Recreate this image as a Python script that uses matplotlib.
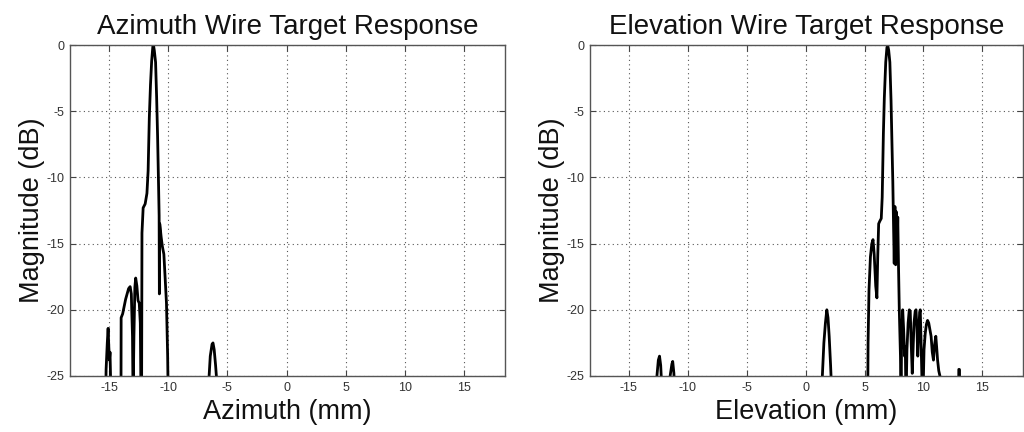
import matplotlib
matplotlib.use("Agg")
import matplotlib.pyplot as plt

# -----------------------------
# DATA (dB below -25 are clipped)
# -----------------------------
az_mm = [-15.35, -15.25, -15.15, -15.08, -15.02, -14.97, -14.92, -14.85, -14.7,
         -14.0, -13.98, -13.85, -13.6, -13.35, -13.22, -13.12, -13.02, -12.97,
         -12.9, -12.82, -12.75, -12.65, -12.55, -12.45, -12.36, -12.3, -12.26,
         -12.22, -12.12, -11.95, -11.8, -11.7, -11.6, -11.5, -11.4, -11.3,
         -11.25, -11.18, -11.07, -10.98, -10.9, -10.82, -10.77, -10.75, -10.72,
         -10.68, -10.6, -10.5, -10.37, -10.25, -10.15, -10.05, -10.0, -9.9,
         -6.7, -6.58, -6.45, -6.3, -6.22, -6.12, -6.0, -5.85, -5.75]
az_db = [-30, -24.5, -22.5, -21.4, -22.8, -23.8, -23.2, -26, -30,
         -30, -20.6, -20.3, -19.2, -18.4, -18.25, -18.8, -22, -27,
         -22, -18.3, -17.6, -18.2, -19.3, -19.5, -21, -27, -30,
         -14.2, -12.3, -12.0, -11.2, -9.5, -5.5, -3.0, -1.2, -0.1,
         0.0, -0.4, -1.3, -4.0, -6.9, -10.5, -12.9, -18.8, -13.5,
         -13.8, -14.5, -15.2, -15.8, -17.8, -19.5, -23.5, -27, -30,
         -30, -25.5, -23.5, -22.6, -22.5, -23.0, -24.2, -26, -30]

el_mm = [-12.75, -12.62, -12.5, -12.4, -12.3, -12.2, -12.1,
         -11.6, -11.5, -11.35, -11.28, -11.18, -11.08, -11.0,
         1.3, 1.42, 1.55, 1.68, 1.8, 1.9, 2.0, 2.12, 2.25, 2.35,
         5.25, 5.3, 5.38, 5.5, 5.62, 5.72, 5.82, 5.95, 6.05, 6.12, 6.2,
         6.3, 6.42, 6.5, 6.6, 6.68, 6.8, 6.9, 6.96, 7.05, 7.15, 7.25,
         7.33, 7.4, 7.46, 7.52, 7.58, 7.64, 7.7, 7.76, 7.82, 7.88, 7.95,
         8.05, 8.1, 8.15, 8.24, 8.32, 8.4, 8.46, 8.52, 8.6, 8.7, 8.8,
         8.88, 8.96, 9.05, 9.12, 9.2, 9.3, 9.37, 9.45, 9.52, 9.6, 9.68,
         9.73, 9.8, 9.88, 9.95, 10.05, 10.15, 10.25, 10.35, 10.45, 10.55,
         10.65, 10.75, 10.85, 10.95, 11.05, 11.12, 11.2, 11.3, 11.4, 11.5,
         12.95, 13.0, 13.05, 13.1]
el_db = [-30, -25, -23.8, -23.5, -24.2, -26, -30,
         -30, -25, -24.1, -23.9, -24.8, -27, -30,
         -30, -25, -22.5, -21, -20.0, -20.6, -22, -24.2, -27, -30,
         -30, -22.5, -18.5, -16.0, -15.0, -14.7, -15.8, -18.2, -19.1, -16, -13.5,
         -13.3, -13.1, -11.5, -6.7, -4.0, -1.3, -0.2, 0.0, -0.4, -1.3, -4.2,
         -7.5, -10.3, -13.5, -16.5, -12.2, -16.6, -12.6, -16.0, -13.0, -16.5, -20.0,
         -23.5, -27, -22, -20.0, -21.5, -23.5, -22.8, -27, -23, -21, -20.0,
         -20.1, -22.5, -24.8, -23, -21, -20.1, -20.0, -21.5, -23.5, -21.5, -20.2,
         -20.0, -22.5, -25.5, -27, -23, -21.8, -21.1, -20.8, -21.0, -21.5,
         -22, -23.2, -23.8, -22.6, -22.0, -22.8, -23.8, -24.6, -25, -30,
         -30, -24.5, -24.5, -30]

x_ticks = [-15, -10, -5, 0, 5, 10, 15]
y_ticks = [-25, -20, -15, -10, -5, 0]

plt.rcParams['font.family'] = ['Liberation Sans', 'DejaVu Sans']

fig = plt.figure(figsize=(10.24, 4.32), dpi=100)
ax1 = fig.add_axes([70 / 1024, 1 - 376 / 432, 435 / 1024, 331 / 432])
ax2 = fig.add_axes([590 / 1024, 1 - 376 / 432, 433 / 1024, 331 / 432])

panels = [
    (ax1, az_mm, az_db, "Azimuth Wire Target Response", "Azimuth (mm)"),
    (ax2, el_mm, el_db, "Elevation Wire Target Response", "Elevation (mm)"),
]

for ax, xs, ys, title, xlabel in panels:
    ax.plot(xs, ys, color="black", linewidth=2.0)
    ax.set_xlim(-18.3, 18.45)
    ax.set_ylim(-25, 0)
    ax.set_xticks(x_ticks)
    ax.set_yticks(y_ticks)
    ax.set_xticklabels([str(v) for v in x_ticks])
    ax.set_yticklabels([str(v) for v in y_ticks])
    ax.grid(True, linestyle=(0, (1, 3)), color="#555555", linewidth=0.8)
    ax.tick_params(direction="in", top=True, right=True, length=4,
                   width=0.8, labelsize=9, labelcolor="#333333",
                   color="#444444", pad=4)
    for sp in ax.spines.values():
        sp.set_color("#555555")
        sp.set_linewidth(1.0)
    ax.set_title(title, fontsize=20, pad=8, color="#111111")
    ax.set_xlabel(xlabel, fontsize=19.5, labelpad=4, color="#111111")
    ax.set_ylabel("Magnitude (dB)", fontsize=19.5, labelpad=1, color="#111111")

fig.savefig("out.png", dpi=100)
